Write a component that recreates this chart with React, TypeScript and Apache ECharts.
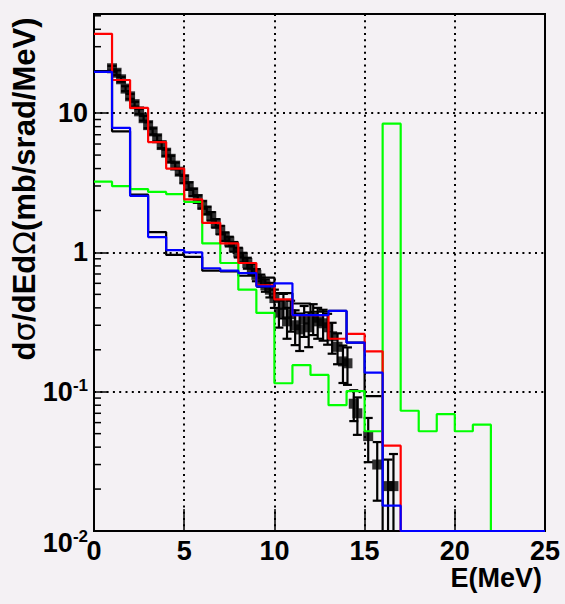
import React, { useEffect, useRef } from "react";
import * as echarts from "echarts";

// ---- data ----
const binEdges = [0, 1, 2, 3, 4, 5, 6, 7, 8, 9, 10, 11, 12, 13, 14, 15, 16, 17, 18, 19, 20, 21, 22, 23, 24, 25];

const redHist = [37.1, 17.3, 10.9, 6.2, 4.0, 2.4, 1.63, 1.16, 0.84, 0.58, 0.46, 0.355, 0.355, 0.24, 0.26, 0.195, 0.041, 0, 0, 0, 0, 0, 0, 0, 0];
const blueHist = [19.8, 7.85, 2.55, 1.29, 1.04, 1.0, 0.77, 0.74, 0.71, 0.57, 0.6, 0.355, 0.355, 0.38, 0.225, 0.137, 0.0152, 0, 0, 0, 0, 0, 0, 0, 0];
const blackHist = [20, 7.4, 2.6, 1.4, 0.96, 0.93, 0.74, 0.73, 0.68, 0.66, 0.51, 0.43, 0.375, 0.38, 0.225, 0.093, 0, 0, 0, 0, 0, 0, 0, 0, 0];
const greenHist = [3.22, 2.99, 2.85, 2.72, 2.62, 2.31, 1.16, 0.84, 0.54, 0.368, 0.115, 0.155, 0.132, 0.08, 0.101, 0.052, 8.4, 0.073, 0.052, 0.069, 0.052, 0.058, 0, 0, 0];

const dataE = [
  1.0, 1.25, 1.5, 1.75, 2.0, 2.25, 2.5, 2.75, 3.0, 3.25, 3.5, 3.75, 4.0, 4.25, 4.5, 4.75,
  5.0, 5.25, 5.5, 5.75, 6.0, 6.25, 6.5, 6.75, 7.0, 7.25, 7.5, 7.75, 8.0, 8.25, 8.5, 8.75,
  9.0, 9.25, 9.5, 9.75,
  10.0, 10.25, 10.5, 10.7, 10.9, 11.15, 11.4, 11.65, 11.9, 12.15, 12.4, 12.7, 12.95, 13.2,
  13.5, 13.8, 14.05, 14.4, 14.6, 15.2, 15.7, 16.3, 16.6,
];
const dataXs = [
  21, 19.5, 17.5, 15.0, 13.2, 11.6, 10.3, 9.2, 8.2, 7.4, 6.6, 5.9, 5.2, 4.7, 4.2, 3.8,
  3.35, 3.0, 2.7, 2.42, 2.2, 2.0, 1.82, 1.62, 1.45, 1.3, 1.2, 1.1, 1.0, 0.92, 0.84, 0.76,
  0.69, 0.63, 0.58, 0.54,
  0.47, 0.37, 0.42, 0.32, 0.36, 0.3, 0.28, 0.33, 0.29, 0.34, 0.32, 0.31, 0.29, 0.25,
  0.21, 0.165, 0.16, 0.082, 0.07, 0.048, 0.03, 0.021, 0.021,
];
const dataRelErr = [
  0.04, 0.04, 0.04, 0.04, 0.04, 0.04, 0.04, 0.04, 0.05, 0.05, 0.05, 0.05, 0.05, 0.05, 0.05, 0.05,
  0.06, 0.06, 0.06, 0.06, 0.06, 0.06, 0.07, 0.07, 0.07, 0.07, 0.08, 0.08, 0.08, 0.08, 0.09, 0.09,
  0.1, 0.1, 0.1, 0.12,
  0.15, 0.22, 0.2, 0.25, 0.25, 0.28, 0.3, 0.25, 0.28, 0.25, 0.25, 0.25, 0.25, 0.25,
  0.25, 0.3, 0.3, 0.25, 0.3, 0.35, 0.45, 0.55, 0.7,
];

const yMin = 0.01;
const yMax = 51.5;
const yTickValues = [0.01, 0.1, 1, 10];
const yTickBase = ["10", "10", "1", "10"];
const yTickExp = ["-2", "-1", "", ""];
const yMinorTicks = [
  0.02, 0.03, 0.04, 0.05, 0.06, 0.07, 0.08, 0.09,
  0.2, 0.3, 0.4, 0.5, 0.6, 0.7, 0.8, 0.9,
  2, 3, 4, 5, 6, 7, 8, 9,
  20, 30, 40, 50,
];
const xTickValues = [0, 5, 10, 15, 20, 25];

const yTitle = "d{g|σ}/dEd{g|Ω}(mb/srad/MeV)";
const xTitle = "E(MeV)";

const FONT = '"Liberation Sans", Arial, Helvetica, sans-serif';
const BG = "#f4f1f4";

function histPoints(vals: number[]) {
  const pts = vals.map((v, i) => [binEdges[i], Math.max(v, yMin)]);
  pts.push([binEdges[binEdges.length - 1], Math.max(vals[vals.length - 1], yMin)]);
  return pts;
}

export default function App() {
  const ref = useRef<HTMLDivElement>(null);
  useEffect(() => {
    if (!ref.current) return;
    const chart = echarts.init(ref.current, undefined, { renderer: "svg" });

    const histSeries = (name: string, vals: number[], color: string) => ({
      name,
      type: "line",
      step: "end",
      data: histPoints(vals),
      symbol: "none",
      clip: false,
      lineStyle: { color, width: 2.2 },
      itemStyle: { color },
      silent: true,
    });

    const errData = dataE.map((e, i) => {
      const y = dataXs[i];
      const lo = Math.max(y * (1 - dataRelErr[i]), yMin);
      const hi = y * (1 + dataRelErr[i]);
      return [e, y, lo, hi];
    });

    const option: any = {
      animation: false,
      backgroundColor: BG,
      grid: {
        left: 94,
        right: 20,
        top: 14,
        bottom: 73,
        show: true,
        borderColor: "#000",
        borderWidth: 2,
        backgroundColor: "transparent",
        containLabel: false,
        outerBoundsMode: "none",
      },
      xAxis: {
        type: "value",
        min: 0,
        max: 25,
        interval: 5,
        axisLine: { show: true, onZero: false, lineStyle: { color: "#000", width: 2 } },
        axisTick: { show: true, inside: true, length: 22, lineStyle: { color: "#000", width: 1.5 } },
        axisLabel: {
          color: "#000",
          fontSize: 27,
          fontWeight: "bold",
          fontFamily: FONT,
          lineHeight: 22,
          margin: 9,
          customValues: xTickValues,
        },
        splitLine: { show: true, lineStyle: { color: "#000", width: 2, type: [2, 4.3] } },
      },
      yAxis: {
        type: "log",
        logBase: 10,
        min: yMin,
        max: yMax,
        axisLine: { show: true, onZero: false, lineStyle: { color: "#000", width: 2 } },
        axisTick: {
          show: true,
          inside: true,
          length: 13,
          lineStyle: { color: "#000", width: 1.5 },
          customValues: yTickValues,
        },
        axisLabel: {
          color: "#000",
          fontSize: 27,
          fontWeight: "bold",
          fontFamily: FONT,
          margin: 6,
          customValues: yTickValues,
          formatter: (v: number) => {
            const idx = yTickValues.findIndex((t) => Math.abs(Math.log10(t) - Math.log10(v)) < 1e-6);
            if (idx < 0) return "";
            const base = yTickBase[idx];
            const exp = yTickExp[idx];
            const body = exp ? `{b|${base}}{s|${exp}}` : `{b|${base}}`;
            if (idx === 0) return `{sp| }\n${body}`;
            return body;
          },
          rich: {
            b: { fontSize: 27, fontWeight: "bold", fontFamily: FONT, color: "#000", lineHeight: 30 },
            s: { fontSize: 17, fontWeight: "bold", fontFamily: FONT, color: "#000", lineHeight: 17, verticalAlign: "top" },
            sp: { fontSize: 10, lineHeight: 24 },
          },
        },
        splitLine: { show: true, lineStyle: { color: "#000", width: 2, type: [2, 4.3] } },
      },
      graphic: [
        {
          type: "text",
          x: 24,
          y: 189,
          rotation: Math.PI / 2,
          style: {
            text: yTitle,
            fill: "#000",
            font: `bold 31px ${FONT}`,
            align: "center",
            verticalAlign: "middle",
            rich: {
              g: { fontSize: 31, fontWeight: "normal", fontFamily: '"DejaVu Sans", sans-serif', fill: "#000" },
            },
          },
        },
        {
          type: "text",
          right: 23,
          top: 564,
          style: {
            text: xTitle,
            fill: "#000",
            font: `bold 27px ${FONT}`,
          },
        },
      ],
      series: [
        {
          name: "minorTicks",
          type: "custom",
          silent: true,
          data: yMinorTicks.map((v) => [0, v]),
          renderItem: (_p: any, api: any) => {
            const p = api.coord([api.value(0), api.value(1)]);
            return {
              type: "line",
              shape: { x1: p[0], y1: p[1], x2: p[0] + 7, y2: p[1] },
              style: { stroke: "#000", lineWidth: 1.5 },
            };
          },
          z: 3,
        },
        {
          name: "errors",
          type: "custom",
          silent: true,
          data: errData,
          encode: { x: 0, y: [1, 2, 3] },
          renderItem: (_p: any, api: any) => {
            const x = api.value(0);
            const lo = api.value(2);
            const hi = api.value(3);
            const pl = api.coord([x, lo]);
            const ph = api.coord([x, hi]);
            const cw = 4.5;
            const st = { stroke: "#000", lineWidth: 2.2 };
            const children: any[] = [
              { type: "line", shape: { x1: pl[0], y1: pl[1], x2: ph[0], y2: ph[1] }, style: st },
              { type: "line", shape: { x1: ph[0] - cw, y1: ph[1], x2: ph[0] + cw, y2: ph[1] }, style: st },
            ];
            if (lo > yMin * 1.0001) {
              children.push({ type: "line", shape: { x1: pl[0] - cw, y1: pl[1], x2: pl[0] + cw, y2: pl[1] }, style: st });
            }
            return { type: "group", children };
          },
          z: 3,
        },
        {
          name: "data",
          type: "scatter",
          silent: true,
          data: dataE.map((e, i) => [e, dataXs[i]]),
          symbol: "rect",
          symbolSize: 10,
          itemStyle: { color: "#000" },
          z: 3,
        },
        { ...histSeries("black", blackHist, "#000000"), z: 4 },
        { ...histSeries("green", greenHist, "#00ff00"), z: 5 },
        { ...histSeries("red", redHist, "#ff0000"), z: 6 },
        { ...histSeries("blue", blueHist, "#0000ff"), z: 7 },
      ],
    };
    chart.setOption(option);
    return () => chart.dispose();
  }, []);

  return (
    <div
      ref={ref}
      style={{ position: "fixed", left: 0, top: 0, width: 565, height: 604, background: BG }}
    />
  );
}
